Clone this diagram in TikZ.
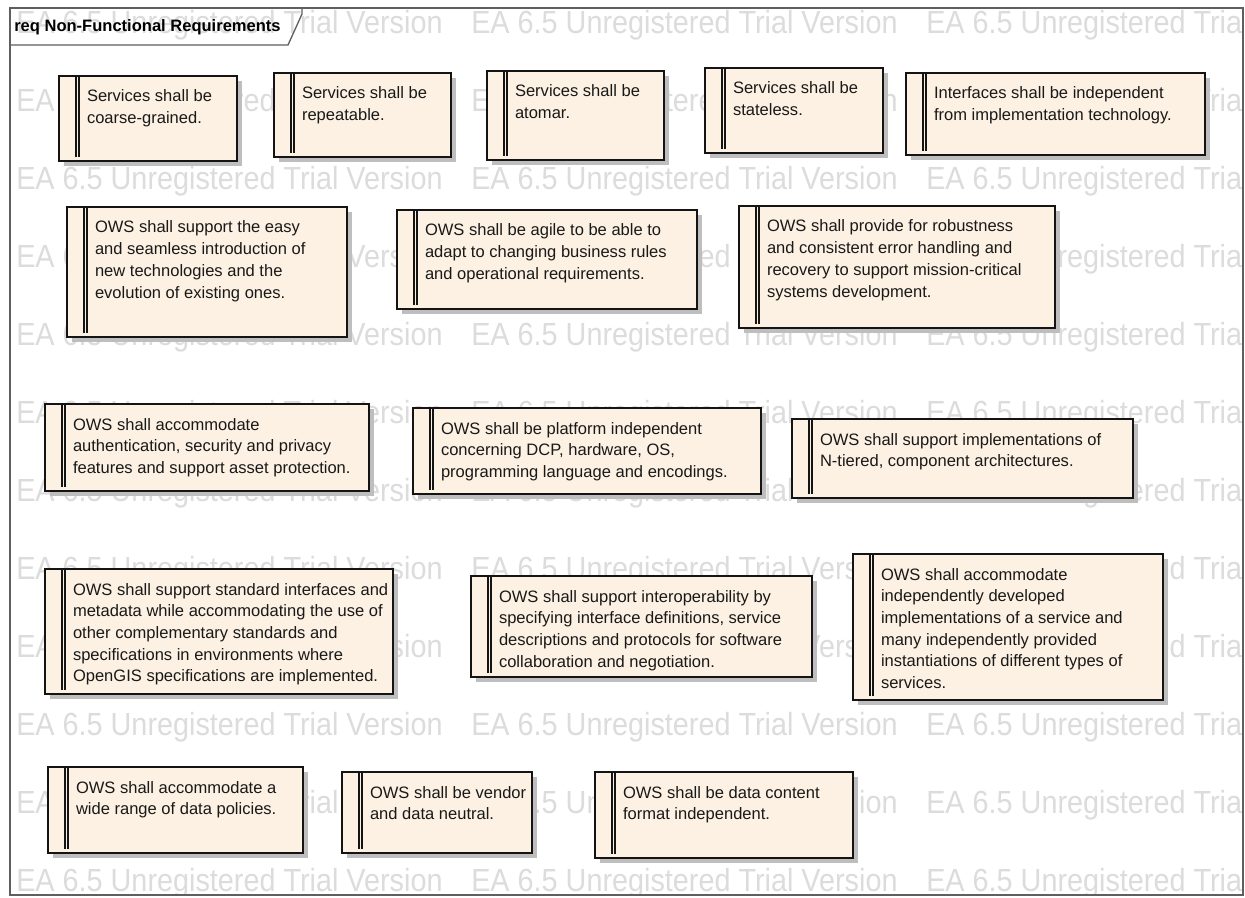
\documentclass[tikz,border=0pt]{standalone}
\usepackage{fontspec}
\setmainfont{Liberation Sans}
\newfontfamily\wmfont[FakeStretch=0.9]{Liberation Sans}
\usetikzlibrary{shadows}
\definecolor{reqfill}{RGB}{252,241,226}
\definecolor{wmgray}{RGB}{220,220,220}
\definecolor{shadowgray}{RGB}{190,190,190}
\definecolor{boxline}{RGB}{20,20,20}
\definecolor{txtcol}{RGB}{25,25,25}
\definecolor{framecol}{RGB}{95,95,95}
\newcommand\reqbox[6]{%
  \node[reqnode, minimum width={(#4-#2)*0.75pt}, minimum height={(#5-#3)*0.75pt}] (#1) at (#2,#3) {};
  \draw[reqbar] ([xshift=12.75pt]#1.north west) -- ++(0,{#5-#3-4});
  \draw[reqbar] ([xshift=15pt]#1.north west) -- ++(0,{#5-#3-4});
  \node[reqtext] (#1-t) at ([xshift=21pt,yshift=-19.5pt]#1.north west) {\begin{tabular}[t]{@{}l@{}}#6\end{tabular}};
}
\begin{document}
\begin{tikzpicture}[x=0.75pt,y=-0.75pt,
  reqnode/.style={draw=boxline, line width=1.1pt, fill=reqfill, anchor=north west, inner sep=0pt, outer sep=0pt,
    drop shadow={shadow xshift=3.75pt, shadow yshift=-3.75pt, fill=shadowgray, opacity=1}},
  reqbar/.style={draw=boxline, line width=0.8pt},
  reqtext/.style={anchor=base west, inner sep=0pt, outer sep=0pt, text=txtcol, font=\fontsize{12.4pt}{16.3pt}\selectfont},
  wm/.style={anchor=base west, inner sep=0pt, text=wmgray, font=\wmfont\fontsize{24pt}{24pt}\selectfont},
  titletext/.style={anchor=west, inner sep=0pt, text=black, font=\bfseries\fontsize{12.4pt}{14pt}\selectfont},
  framestyle/.style={draw=framecol, line width=1pt}
]
\useasboundingbox (0,0) rectangle (1245,898);
\fill[white] (0,0) rectangle (1245,898);
\begin{scope}
  \clip (10,8) rectangle (1243,895);
  \foreach \r in {0,...,11}{\foreach \c in {0,1,2}{%
    \node[wm] (wm\r-\c) at ({16+455*\c},{33.5+78*\r}) {EA 6.5 Unregistered Trial Version};}}
\end{scope}
\draw[framestyle] (10,8) rectangle (1243,895);
\draw[framestyle] (10,45) -- (288,45) -- (302,14) -- (302,8);
\node[titletext] (title) at (14,27) {req Non-Functional Requirements};

\reqbox{b1}{59}{76}{237}{161}{Services shall be\\coarse-grained.}
\reqbox{b2}{274}{73}{451}{157}{Services shall be\\repeatable.}
\reqbox{b3}{487}{71}{664}{160}{Services shall be\\atomar.}
\reqbox{b4}{705}{68}{883}{153}{Services shall be\\stateless.}
\reqbox{b5}{906}{73}{1205}{155}{Interfaces shall be independent\\from implementation technology.}

\reqbox{b6}{67}{207}{347}{337}{OWS shall support the easy\\and seamless introduction of\\new technologies and the\\evolution of existing ones.}
\reqbox{b7}{397}{210}{697}{309}{OWS shall be agile to be able to\\adapt to changing business rules\\and operational requirements.}
\reqbox{b8}{739}{206}{1055}{328}{OWS shall provide for robustness\\and consistent error handling and\\recovery to support mission-critical\\systems development.}

\reqbox{b9}{45}{404}{369}{491}{OWS shall accommodate\\authentication, security and privacy\\features and support asset protection.}
\reqbox{b10}{413}{408}{761}{494}{OWS shall be platform independent\\concerning DCP, hardware, OS,\\programming language and encodings.}
\reqbox{b11}{792}{419}{1133}{498}{OWS shall support implementations of\\N-tiered, component architectures.}

\reqbox{b12}{45}{569}{393}{694}{OWS shall support standard interfaces and\\metadata while accommodating the use of\\other complementary standards and\\specifications in environments where\\OpenGIS specifications are implemented.}
\reqbox{b13}{471}{576}{812}{677}{OWS shall support interoperability by\\specifying interface definitions, service\\descriptions and protocols for software\\collaboration and negotiation.}
\reqbox{b14}{853}{554}{1163}{700}{OWS shall accommodate\\independently developed\\implementations of a service and\\many independently provided\\instantiations of different types of\\services.}

\reqbox{b15}{48}{767}{303}{853}{OWS shall accommodate a\\wide range of data policies.}
\reqbox{b16}{342}{772}{532}{853}{OWS shall be vendor\\and data neutral.}
\reqbox{b17}{595}{772}{853}{858}{OWS shall be data content\\format independent.}
\end{tikzpicture}
\end{document}
